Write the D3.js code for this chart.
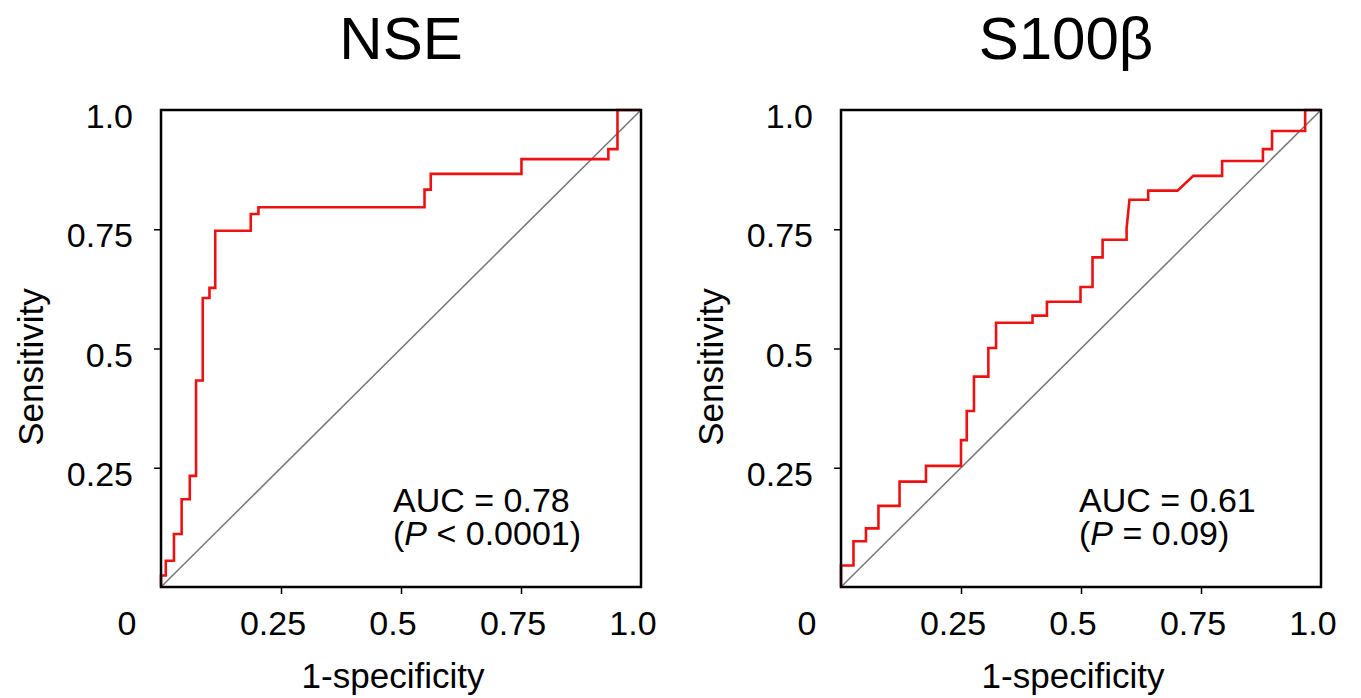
<!DOCTYPE html>
<html>
<head>
<meta charset="utf-8">
<script src="https://cdn.jsdelivr.net/npm/d3@7"></script>
<style>
  body { margin: 0; background: #fff; }
  svg { display: block; font-family: "Liberation Sans", Arial, Helvetica, sans-serif; }
</style>
</head>
<body>
<svg id="chart" width="1361" height="698"></svg>
<script>
// ROC vertices (1-specificity, sensitivity)
var nseFpr = [0, 0, 0.010, 0.010, 0.027, 0.027, 0.043, 0.043, 0.060, 0.060, 0.073, 0.073, 0.087, 0.087,
  0.101, 0.101, 0.113, 0.113, 0.187, 0.187, 0.203, 0.203, 0.549, 0.549, 0.562, 0.562, 0.751, 0.751,
  0.932, 0.932, 0.951, 0.951, 1];
var nseTpr = [0, 0.024, 0.024, 0.055, 0.055, 0.111, 0.111, 0.184, 0.184, 0.233, 0.233, 0.433, 0.433, 0.606,
  0.606, 0.627, 0.627, 0.747, 0.747, 0.782, 0.782, 0.796, 0.796, 0.833, 0.833, 0.866, 0.866, 0.897,
  0.897, 0.918, 0.918, 1, 1];

var s100Fpr = [0, 0, 0.026, 0.026, 0.052, 0.052, 0.078, 0.078, 0.122, 0.122, 0.177, 0.177, 0.250, 0.250,
  0.262, 0.262, 0.277, 0.277, 0.307, 0.307, 0.323, 0.323, 0.399, 0.399, 0.429, 0.429, 0.499, 0.499,
  0.524, 0.524, 0.545, 0.545, 0.595, 0.595, 0.601, 0.640, 0.640, 0.701, 0.734, 0.794, 0.794, 0.879,
  0.879, 0.898, 0.898, 0.967, 0.967, 1];
var s100Tpr = [0, 0.045, 0.045, 0.096, 0.096, 0.123, 0.123, 0.170, 0.170, 0.221, 0.221, 0.254, 0.254, 0.308,
  0.308, 0.369, 0.369, 0.441, 0.441, 0.501, 0.501, 0.554, 0.554, 0.569, 0.569, 0.598, 0.598, 0.629,
  0.629, 0.691, 0.691, 0.728, 0.728, 0.752, 0.812, 0.812, 0.831, 0.831, 0.862, 0.862, 0.893, 0.893,
  0.918, 0.918, 0.956, 0.956, 1, 1];

var tickValues = [0.25, 0.5, 0.75];
var labelValues = [0.25, 0.5, 0.75, 1.0];
var tickLabels = ["0.25", "0.5", "0.75", "1.0"];

var panels = [
  {title: "NSE", left: 161, titleX: 401, aucX: 232, fpr: nseFpr, tpr: nseTpr, auc: "AUC = 0.78", op: " < ", p: "0.0001"},
  {title: "S100\u03b2", left: 841, titleX: 1066, aucX: 238, fpr: s100Fpr, tpr: s100Tpr, auc: "AUC = 0.61", op: " = ", p: "0.09"}
];

var svg = d3.select("#chart");
var plotSize = 480, plotTop = 110, plotBottom = 587;

panels.forEach(function(pn) {
  var g = svg.append("g").attr("transform", "translate(" + pn.left + ",0)");

  var x = d3.scaleLinear().domain([0, 1]).range([0, plotSize]);
  var y = d3.scaleLinear().domain([0, 1]).range([plotBottom, plotTop]);

  //Title
  svg.append("text")
    .attr("x", pn.titleX).attr("y", 59)
    .attr("text-anchor", "middle")
    .style("font-size", "60px")
    .text(pn.title);

  //Chance line
  g.append("line")
    .attr("x1", x(0)).attr("y1", y(0))
    .attr("x2", x(1)).attr("y2", y(1))
    .style("stroke", "#777")
    .style("stroke-width", 1.5);

  //ROC curve
  var pts = pn.fpr.map(function(v, i) { return [v, pn.tpr[i]]; });
  g.append("path")
    .datum(pts)
    .attr("d", d3.line().x(d => x(d[0])).y(d => y(d[1])))
    .style("fill", "none")
    .style("stroke", "#ee1111")
    .style("stroke-width", 2.6)
    .style("stroke-linejoin", "miter");

  //Ticks
  g.append("g")
    .attr("transform", "translate(0," + plotBottom + ")")
    .call(d3.axisBottom(x).tickValues(tickValues).tickSize(7).tickFormat(""))
    .call(a => a.select(".domain").remove())
    .selectAll("line").style("stroke", "#000").style("stroke-width", 1.5);
  g.append("g")
    .call(d3.axisLeft(y).tickValues(tickValues).tickSize(7).tickFormat(""))
    .call(a => a.select(".domain").remove())
    .selectAll("line").style("stroke", "#000").style("stroke-width", 1.5);

  //Frame
  g.append("rect")
    .attr("x", x(0)).attr("y", y(1))
    .attr("width", x(1) - x(0)).attr("height", y(0) - y(1))
    .style("fill", "none")
    .style("stroke", "#000")
    .style("stroke-width", 2.5);

  //Tick labels
  g.selectAll(".xl").data(labelValues).enter().append("text")
    .attr("x", d => x(d) - 8).attr("y", plotBottom + 48)
    .attr("text-anchor", "middle")
    .style("font-size", "34px")
    .text((d, i) => tickLabels[i]);
  g.selectAll(".yl").data(labelValues).enter().append("text")
    .attr("x", -28).attr("y", d => y(d) + 18)
    .attr("text-anchor", "end")
    .style("font-size", "34px")
    .text((d, i) => tickLabels[i]);
  g.append("text")
    .attr("x", x(0) - 34).attr("y", plotBottom + 48)
    .attr("text-anchor", "middle")
    .style("font-size", "34px")
    .text("0");

  //Axis titles
  g.append("text")
    .attr("x", 232).attr("y", 688)
    .attr("text-anchor", "middle")
    .style("font-size", "35px")
    .text("1-specificity");
  g.append("text")
    .attr("transform", "translate(" + (43 - 161) + ",367) rotate(-90)")
    .attr("text-anchor", "middle")
    .style("font-size", "35px")
    .text("Sensitivity");

  //AUC annotation
  g.append("text")
    .attr("x", pn.aucX).attr("y", 512)
    .style("font-size", "34px")
    .text(pn.auc);
  var pt = g.append("text")
    .attr("x", pn.aucX).attr("y", 545)
    .style("font-size", "34px");
  pt.append("tspan").text("(");
  pt.append("tspan").style("font-style", "italic").text("P");
  pt.append("tspan").text(pn.op + pn.p + ")");
});
</script>
</body>
</html>
